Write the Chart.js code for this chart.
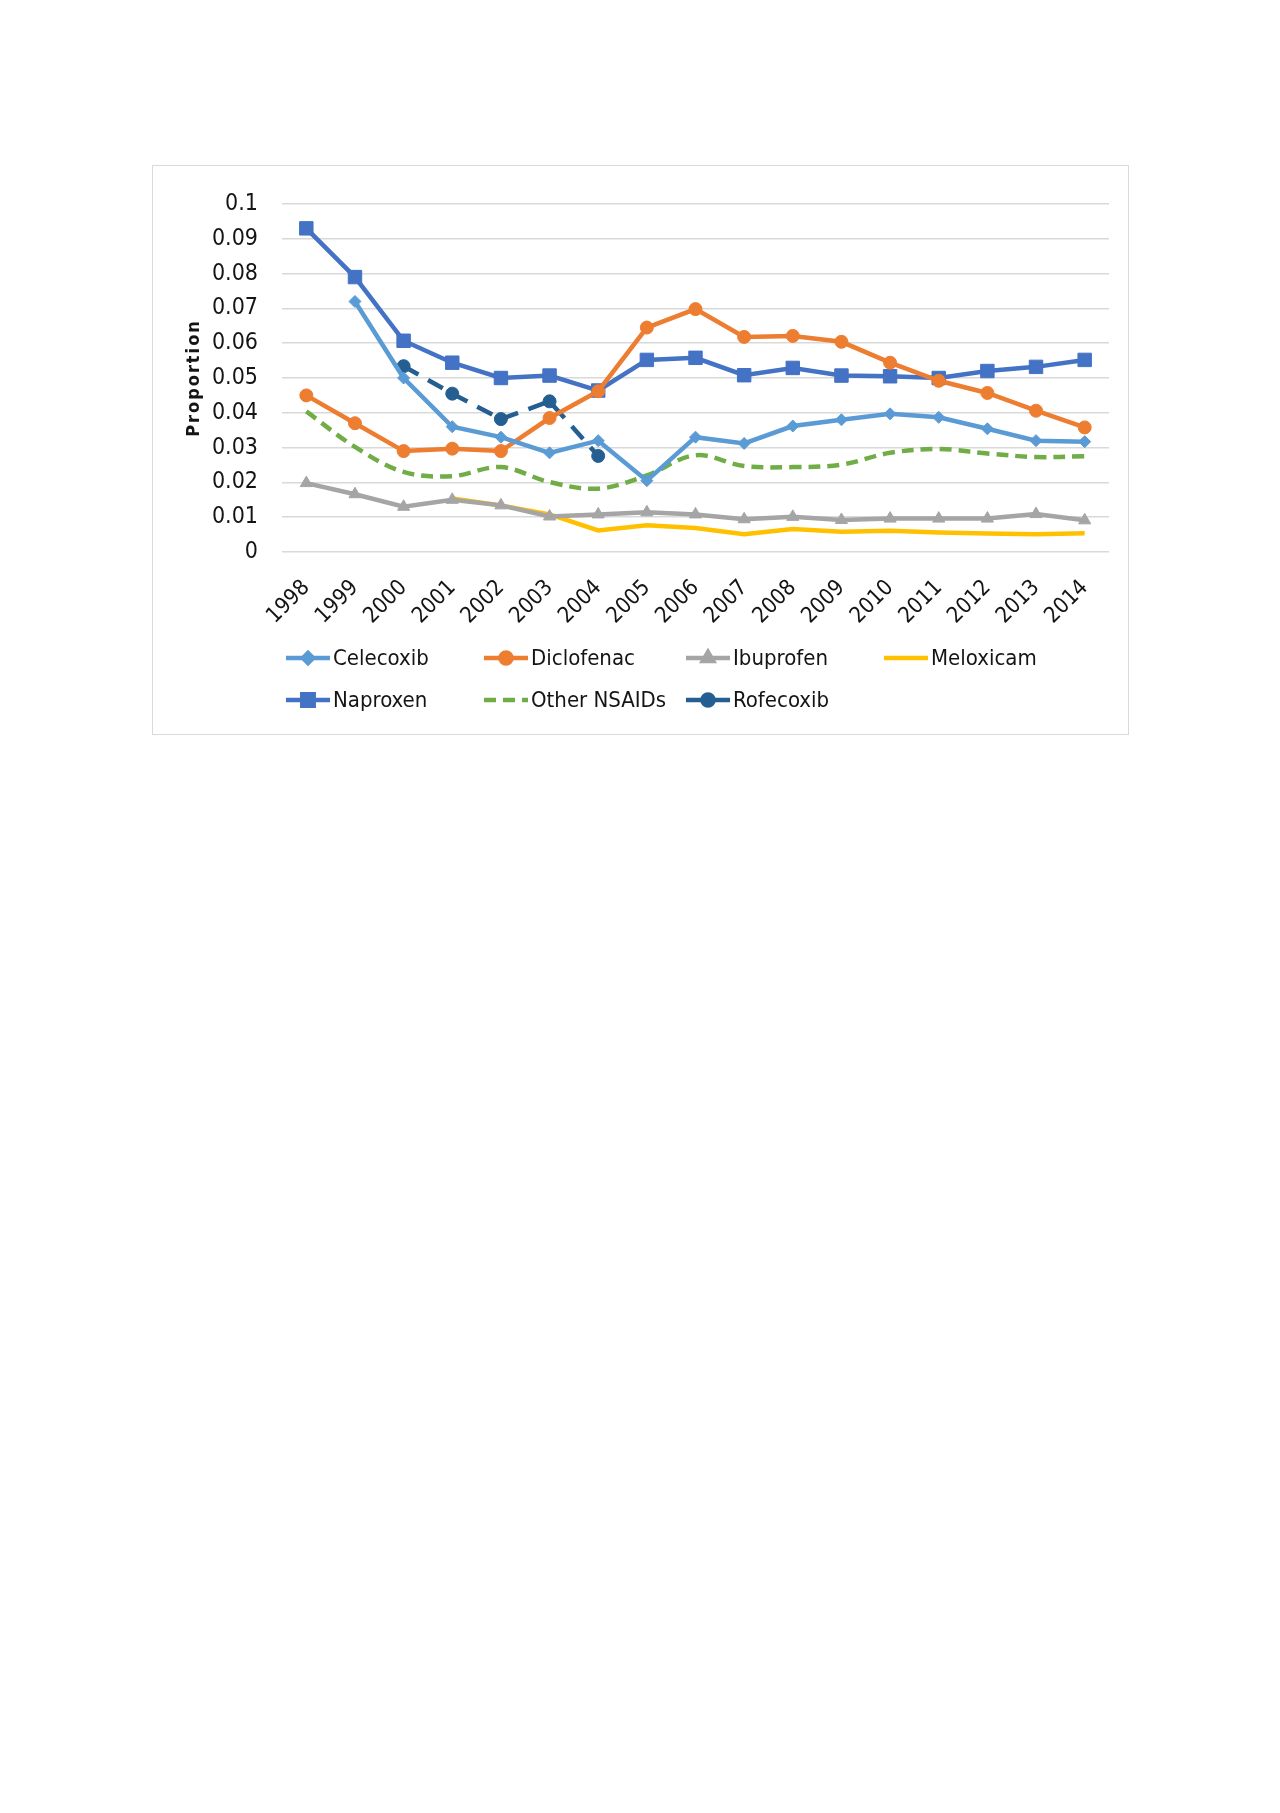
<!DOCTYPE html>
<html>
<head>
<meta charset="utf-8">
<script src="https://cdn.jsdelivr.net/npm/chart.js@4.4.1/dist/chart.umd.min.js"></script>
<style>
  html, body { margin: 0; padding: 0; background: #ffffff; }
  body { width: 1280px; height: 1813px; position: relative; }
  #box {
    position: absolute; left: 152px; top: 165px;
    width: 977px; height: 570px;
    border: 1.5px solid #d9d9d9; box-sizing: border-box;
  }
</style>
</head>
<body>
<div id="box"><canvas id="nsaidChart"></canvas></div>
<script>
// years on the x axis
const years = ['1998', '1999', '2000', '2001', '2002', '2003', '2004', '2005', '2006',
               '2007', '2008', '2009', '2010', '2011', '2012', '2013', '2014'];

// proportions
const celecoxib  = [null, 0.072, 0.050, 0.036, 0.033, 0.0285, 0.032, 0.0205, 0.033, 0.0312, 0.0362, 0.038, 0.0397, 0.0387, 0.0354, 0.032, 0.0317];
const diclofenac = [0.045, 0.037, 0.029, 0.0297, 0.029, 0.0385, 0.0462, 0.0645, 0.0698, 0.0618, 0.0621, 0.0604, 0.0544, 0.0492, 0.0457, 0.0406, 0.0358];
const ibuprofen  = [0.0198, 0.0166, 0.013, 0.015, 0.0134, 0.0102, 0.0108, 0.0114, 0.0108, 0.0094, 0.0101, 0.0092, 0.0096, 0.0096, 0.0096, 0.0109, 0.0091];
const meloxicam  = [null, null, null, 0.0154, 0.0134, 0.0108, 0.0062, 0.0077, 0.0069, 0.0051, 0.0066, 0.0058, 0.0061, 0.0056, 0.0053, 0.0051, 0.0054];
const naproxen   = [0.093, 0.079, 0.0607, 0.0544, 0.050, 0.0507, 0.0464, 0.0552, 0.0558, 0.0508, 0.0529, 0.0507, 0.0505, 0.050, 0.052, 0.0532, 0.0552];
const otherNsaid = [0.0404, 0.0302, 0.023, 0.0218, 0.0244, 0.0201, 0.0182, 0.022, 0.0278, 0.0247, 0.0244, 0.0251, 0.0285, 0.0296, 0.0283, 0.0273, 0.0275];
const rofecoxib  = [null, null, 0.0534, 0.0455, 0.0382, 0.0433, 0.0276, null, null, null, null, null, null, null, null, null, null];

const yTicks = [0, 0.01, 0.02, 0.03, 0.04, 0.05, 0.06, 0.07, 0.08, 0.09, 0.1];

const fontFamily = '"Liberation Sans Narrow", "DejaVu Sans Condensed", "Liberation Sans", sans-serif';
const textColor = '#141414';
const lineW = 4.5;

function series(label, data, color, style, radius, dash) {
    return {
        label: label,
        data: data,
        borderColor: color,
        backgroundColor: color,
        pointBackgroundColor: color,
        pointBorderColor: color,
        pointStyle: style,
        pointRadius: style ? radius : 0,
        pointBorderWidth: 1,
        borderWidth: lineW,
        borderDash: dash || [],
        borderCapStyle: 'butt',
        tension: 0,
        spanGaps: false
    };
}

const datasets = [
    series('Celecoxib', celecoxib, '#5B9BD5', 'rectRot', 6),
    series('Diclofenac', diclofenac, '#ED7D31', 'circle', 6.5),
    series('Ibuprofen', ibuprofen, '#A5A5A5', 'triangle', 7),
    series('Meloxicam', meloxicam, '#FFC000', false, 0),
    series('Naproxen', naproxen, '#4472C4', 'rect', 9.5),
    series('Other NSAIDs', otherNsaid, '#70AD47', false, 0, [12, 7]),
    series('Rofecoxib', rofecoxib, '#255E91', 'circle', 6.5, [17, 11])
];
// Excel-style smoothed line for the "other" group
datasets[5].tension = 0.35;

// legend in fixed columns plus the spaced-out axis title
const legendGrid = {
    id: 'legendGrid',
    afterDraw(chart) {
        const ctx = chart.ctx;
        const cols = [133, 331, 533, 731];
        const rows = [492, 534];
        ctx.save();
        chart.data.datasets.forEach(function (ds, i) {
            const x = cols[i % 4];
            const y = rows[Math.floor(i / 4)];
            ctx.strokeStyle = ds.borderColor;
            ctx.lineWidth = lineW;
            ctx.setLineDash(ds.borderDash);
            ctx.beginPath();
            ctx.moveTo(x, y);
            ctx.lineTo(x + 44, y);
            ctx.stroke();
            ctx.setLineDash([]);
            if (ds.pointStyle) {
                ctx.fillStyle = ds.pointBackgroundColor;
                Chart.helpers.drawPoint(ctx, {
                    pointStyle: ds.pointStyle,
                    radius: ds.pointRadius * 0.85,
                    rotation: 0,
                    borderWidth: 1
                }, x + 22, y);
            }
            ctx.fillStyle = textColor;
            ctx.font = '22px ' + fontFamily;
            ctx.textBaseline = 'middle';
            ctx.textAlign = 'left';
            ctx.fillText(ds.label, x + 47, y + 1);
        });

        const area = chart.chartArea;
        ctx.translate(41, (area.top + area.bottom) / 2);
        ctx.rotate(-Math.PI / 2);
        ctx.letterSpacing = '2px';
        ctx.font = 'bold 18px ' + fontFamily;
        ctx.fillStyle = textColor;
        ctx.textAlign = 'center';
        ctx.textBaseline = 'middle';
        ctx.fillText('Proportion', 0, 0);
        ctx.restore();
    }
};

const ctx = document.getElementById('nsaidChart').getContext('2d');

new Chart(ctx, {
    type: 'line',
    data: { labels: years, datasets: datasets },
    options: {
        responsive: true,
        maintainAspectRatio: false,
        animation: false,
        layout: { padding: { top: 38, left: 0, right: 19, bottom: 102 } },
        plugins: {
            legend: { display: false },
            tooltip: { enabled: false }
        },
        scales: {
            x: {
                offset: true,
                grid: { display: false, drawTicks: false },
                border: { display: false },
                ticks: {
                    color: textColor,
                    font: { family: fontFamily, size: 22 },
                    minRotation: 45,
                    maxRotation: 45,
                    padding: 23,
                    autoSkip: false
                },
                afterFit(scale) { scale.height = 80; }
            },
            y: {
                min: 0,
                max: 0.1,
                afterBuildTicks(scale) {
                    scale.ticks = yTicks.map(function (v) { return { value: v }; });
                },
                grid: { color: '#d9d9d9', lineWidth: 1.5, drawTicks: false },
                border: { display: false },
                ticks: {
                    color: textColor,
                    font: { family: fontFamily, size: 23 },
                    padding: 24,
                    callback: function (v) { return String(+v.toFixed(2)); }
                },
                afterFit(scale) { scale.width = 129; }
            }
        }
    },
    plugins: [legendGrid]
});
</script>
</body>
</html>
